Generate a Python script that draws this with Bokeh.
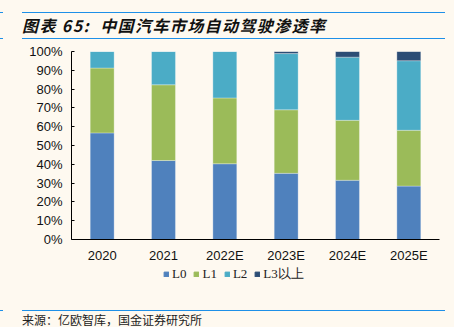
from bokeh.plotting import figure
from bokeh.models import (ColumnDataSource, FactorRange, Range1d, FixedTicker,
                          Legend, LegendItem, Div)
from bokeh.layouts import column
from bokeh.embed import file_html
from bokeh.resources import INLINE

# ---- data ----
categories = ["2020", "2021", "2022E", "2023E", "2024E", "2025E"]
series_names = ["L0", "L1", "L2", "L3以上"]
L0 = [56.7, 42.0, 40.3, 35.2, 31.5, 28.4]
L1 = [34.5, 40.3, 35.0, 33.8, 31.9, 29.7]
L2 = [8.8, 17.7, 24.7, 29.9, 33.6, 37.0]
L3 = [0.0, 0.0, 0.0, 1.1, 3.0, 4.9]
y_ticks = [0, 10, 20, 30, 40, 50, 60, 70, 80, 90, 100]
y_tick_labels = ["0%", "10%", "20%", "30%", "40%", "50%", "60%", "70%", "80%", "90%", "100%"]
title_text = "图表 65:&nbsp; 中国汽车市场自动驾驶渗透率"
source_text = "来源：亿欧智库，国金证券研究所"

colors = ["#4F81BD", "#9BBB59", "#4BACC6", "#2C4D75"]
bg = "#FEF9F0"
line_blue = "#1E90E8"

src = ColumnDataSource(dict(cat=categories, L0=L0, L1=L1, L2=L2, L3=L3))

W = 454
TITLE_H, FIG_H, LEG_H, FOOT_H = 40, 225, 40, 22
FRAME_LEFT = 71

p = figure(width=W, height=FIG_H, x_range=FactorRange(*categories, range_padding=0),
           y_range=Range1d(0, 100), output_backend="svg", toolbar_location=None,
           min_border_left=FRAME_LEFT, min_border_right=15, min_border_top=11,
           min_border_bottom=24, margin=0)
p.background_fill_color = bg
p.border_fill_color = bg
p.outline_line_color = None
p.xgrid.visible = False
p.ygrid.visible = False

renderers = p.vbar_stack(["L0", "L1", "L2", "L3"], x="cat", width=0.39, source=src,
                         color=colors, line_color="#FFFFFF", line_alpha=0.5, line_width=0.6)

# axes
ya = p.yaxis[0]
ya.ticker = FixedTicker(ticks=y_ticks)
ya.major_label_overrides = {t: l for t, l in zip(y_ticks, y_tick_labels)}
ya.major_tick_in = 3
ya.major_tick_out = 0
ya.minor_tick_line_color = None
ya.axis_line_color = "#000000"
ya.major_tick_line_color = "#000000"
ya.major_label_standoff = 9
ya.axis_label_standoff = 0
ya.major_label_text_font = "Liberation Sans"
ya.major_label_text_font_size = "13px"
ya.major_label_text_color = "#111111"

xa = p.xaxis[0]
xa.major_tick_line_color = None
xa.major_tick_in = 0
xa.major_tick_out = 0
xa.minor_tick_line_color = None
xa.axis_line_color = "#000000"
xa.axis_line_width = 1.2
xa.major_label_standoff = 8
xa.axis_label_standoff = 0
xa.major_label_text_font = "Liberation Sans"
xa.major_label_text_font_size = "13px"
xa.major_label_text_color = "#111111"

# legend strip (separate small figure holding only the legend; its frame aligns with the main one)
lg = figure(width=W, height=LEG_H, x_range=Range1d(0, 1), y_range=Range1d(0, 1),
            x_axis_type=None, y_axis_type=None, output_backend="svg", toolbar_location=None,
            min_border=0, margin=0)
lg.background_fill_color = bg
lg.border_fill_color = bg
lg.outline_line_color = None
lg.xgrid.visible = False
lg.ygrid.visible = False
leg_src = ColumnDataSource(dict(x=[-5.0], t=[-5.0]))  # outside the strip's range: only the legend keys show
leg_rs = [lg.vbar(x="x", top="t", width=0.1, source=leg_src, color=c) for c in colors]
items = [LegendItem(label=n, renderers=[r]) for n, r in zip(series_names, leg_rs)]
legend = Legend(items=items, orientation="horizontal", location=(163 - FRAME_LEFT, 22),
                glyph_width=6, glyph_height=6, label_standoff=3, spacing=7,
                padding=0, margin=0, label_height=12, label_width=0,
                label_text_font="Liberation Serif", label_text_font_size="13px",
                label_text_color="#222222", background_fill_alpha=0, border_line_color=None)
lg.add_layout(legend, "center")

title_div = Div(width=W, height=TITLE_H, margin=0, text=(
    f'<div style="position:relative;width:{W}px;height:{TITLE_H}px;background:{bg};overflow:hidden;">'
    f'<div style="position:absolute;left:0;top:11.5px;width:2.5px;border-top:1.6px solid {line_blue};"></div>'
    f'<div style="position:absolute;left:22px;top:11.5px;width:423px;border-top:1.6px solid {line_blue};"></div>'
    f'<div style="position:absolute;left:22px;top:17px;line-height:16px;font-size:16px;letter-spacing:1.4px;'
    f'font-family:\'Noto Sans CJK SC\';font-weight:bold;font-style:italic;color:#111;white-space:nowrap;">{title_text}</div>'
    f'<div style="position:absolute;left:0;top:38.2px;width:2.5px;border-top:1.6px solid {line_blue};"></div>'
    f'<div style="position:absolute;left:22px;top:38.2px;width:423px;border-top:1.6px solid {line_blue};"></div>'
    '</div>'))

foot_div = Div(width=W, height=FOOT_H, margin=0, text=(
    f'<div style="position:relative;width:{W}px;height:{FOOT_H}px;background:{bg};overflow:hidden;">'
    f'<div style="position:absolute;left:0;top:5.3px;width:2.5px;border-top:1.4px solid {line_blue};"></div>'
    f'<div style="position:absolute;left:22px;top:5.3px;width:423px;border-top:1.4px solid {line_blue};"></div>'
    f'<div style="position:absolute;left:22px;top:9px;line-height:12px;font-size:12px;'
    f'font-family:\'Noto Sans CJK SC\';color:#222;white-space:nowrap;">{source_text}</div>'
    '</div>'))

layout = column(title_div, p, lg, foot_div, spacing=0, margin=0,
                styles={"background-color": bg})

open("out.html", "w").write(file_html(layout, INLINE))
